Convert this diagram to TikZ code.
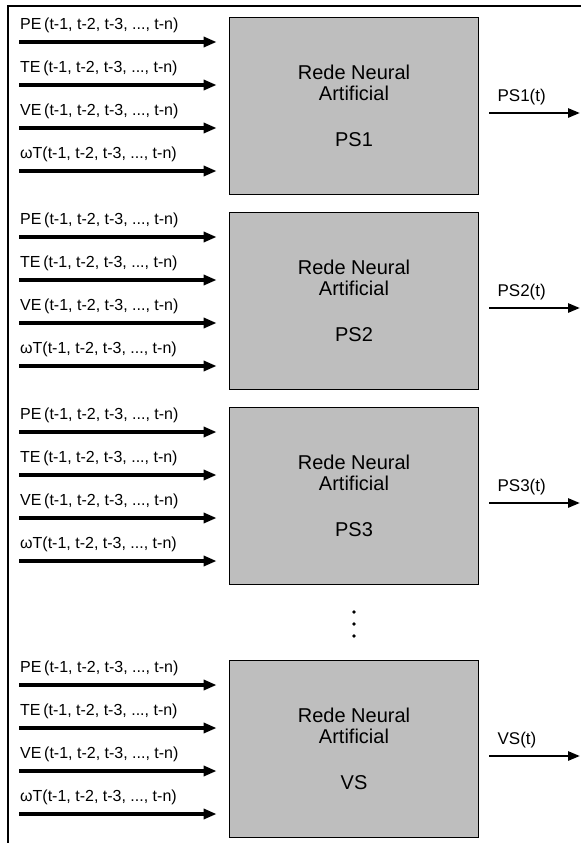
\documentclass[tikz,border=0pt]{standalone}
\usepackage{fontspec}
\setmainfont{Liberation Sans}
\usetikzlibrary{arrows.meta,calc}
\definecolor{boxgray}{RGB}{190,190,190}
\tikzset{
	rnabox/.style={draw=black, line width=1.8pt, fill=boxgray, minimum width=249pt, minimum height=177pt, align=center, font=\fontsize{20}{21}\selectfont},
	inarrow/.style={line width=3.6pt, -{Triangle[length=13pt,width=10pt]}},
	outarrow/.style={line width=2.6pt, -{Triangle[length=12pt,width=9pt]}},
	inlabel/.style={anchor=west, inner sep=1pt, font=\fontsize{16}{17}\selectfont},
	outlabel/.style={anchor=west, inner sep=1pt, font=\fontsize{17}{18}\selectfont}
}

\begin{document}
\begin{tikzpicture}[x=1pt, y=-1pt]
		%%%%% START %%%%%
		\useasboundingbox (0, 0) rectangle (581, 843);
		
		% frame (top and left only)
		\draw[line width=1.6pt] (8, 843) -- (8, 6) -- (581, 6);
		
		\foreach \tag/\top in {PS1/17, PS2/212, PS3/407, VS/660}{
			\node[rnabox] (box\tag) at (354, \top+89) {Rede Neural\\Artificial\\[25pt]\tag};
			
			% inputs
			\foreach \var/\dy [count=\k] in {PE\,/25, TE\,/68, VE\,/111, ωT/154}{
				\coordinate (in\tag\k) at (19, \top+\dy);
				\coordinate (end\tag\k) at ($(box\tag.west |- in\tag\k)+(-12pt, 0)$);
				\draw[inarrow] (in\tag\k) -- (end\tag\k);
				\node[inlabel] (lab\tag\k) at ([yshift=17pt]in\tag\k) {\var(t-1, t-2, t-3, ..., t-n)};
			}
			
			% output
			\coordinate (out\tag) at (580, \top+96);
			\coordinate (start\tag) at ($(box\tag.east |- out\tag)+(10pt, 0)$);
			\draw[outarrow] (start\tag) -- (out\tag);
			\node[outlabel] (lbl\tag) at ([xshift=7pt, yshift=16pt]start\tag) {\tag(t)};
		}
		
		% dots between PS3 and VS
		\foreach \y in {612, 624, 636}
			\fill (354, \y) circle (1.8);
		
		%%%%% END %%%%%
	\end{tikzpicture}
\end{document}
